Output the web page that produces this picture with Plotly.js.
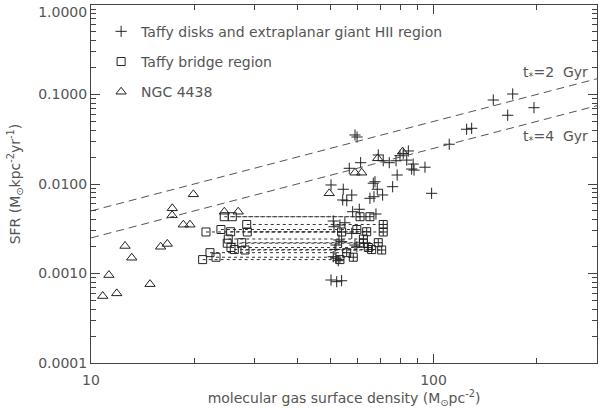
<!DOCTYPE html>
<html>
<head>
<meta charset="utf-8">
<script src="https://cdn.plot.ly/plotly-3.0.1.min.js"></script>
<style>html,body{margin:0;padding:0;background:#fff;}#chart{width:600px;height:412px;}</style>
</head>
<body>
<div id="chart"></div>
<script>
// Taffy disks and extraplanar giant HII region
const taffyGas = [149.4,170.2,196.4,164.6,124.9,129.2,111.1,98.7,58.97,59.8,68.97,81.56,84.4,79.8,71.3,74.25,77.7,83.5,87.2,86.3,87.7,94.4,61.25,56.75,78.3,67.45,66.7,50.2,54.5,68.5,75.96,71.0,57.7,66.99,65.2,54.3,55.8,58.05,60.7,67.9,50.96,53.3,55.1,51.2,52.96,53.9,51.9,51.55,58.97,50.96,51.9,52.7,50.2,52.15,53.9,57.7,59.7];
const taffySFR = [0.0868,0.1013,0.0712,0.0586,0.0409,0.0419,0.0278,0.00787,0.0353,0.0335,0.0211,0.0220,0.0234,0.0207,0.0182,0.0173,0.0182,0.0185,0.0167,0.0147,0.0143,0.0154,0.0173,0.01498,0.0126,0.0106,0.0102,0.00975,0.00873,0.00873,0.00933,0.00754,0.00754,0.00721,0.00692,0.00663,0.00651,0.0049,0.00522,0.00462,0.00386,0.00348,0.00369,0.00333,0.00237,0.00227,0.00208,0.00186,0.00208,0.00154,0.00148,0.00139,0.000846,0.00081,0.00083,0.00281,0.00199];

// Taffy bridge region: low and high gas estimates for the same SFR
const bridgeGasLow  = [24.49,25.85,28.48,21.66,23.95,25.57,28.59,25.16,24.99,27.54,25.62,26.2,28.15,22.25,23.17,21.18];
const bridgeGasHigh = [61.0,65.2,71.3,53.9,59.7,63.8,71.3,62.4,62.4,68.96,64.5,65.97,70.56,55.77,58.3,53.3];
const bridgeSFR     = [0.00431,0.00431,0.00353,0.00291,0.0031,0.00293,0.00291,0.00243,0.00218,0.00221,0.00195,0.00185,0.00183,0.00171,0.00152,0.00143];

// NGC 4438
const ngcGas = [19.9,17.27,17.25,18.6,19.45,12.57,13.15,15.97,16.7,11.28,10.82,11.89,14.87,24.5,26.9,49.6,58.97,61.7,68.7,81.2];
const ngcSFR = [0.00767,0.00535,0.00447,0.00351,0.00351,0.00203,0.0015,0.00199,0.00214,0.00096,0.00056,0.0006,0.00076,0.0049,0.0049,0.00787,0.01337,0.01337,0.01937,0.02296];

// depletion-time lines (gas range and SFR at its ends)
const lineGas = [10, 300];
const line2Gyr = [0.005, 0.15];
const line4Gyr = [0.0025, 0.075];

// axis ticks
const yTickVals = [0.0001, 0.001, 0.01, 0.1];
const yTickText = ['0.0001', '0.0010', '0.0100', '0.1000'];
const yTopVal = [1];
const yTopText = ['1.0000'];
const yMinorVals = [0.0002,0.0003,0.0004,0.0005,0.0006,0.0007,0.0008,0.0009,
                    0.002,0.003,0.004,0.005,0.006,0.007,0.008,0.009,
                    0.02,0.03,0.04,0.05,0.06,0.07,0.08,0.09,
                    0.2,0.3,0.4,0.5,0.6,0.7,0.8,0.9];
const xTickVals = [10, 100];
const xTickText = ['10', '100'];
const xMinorVals = [20,30,40,50,60,70,80,90,200,300];

const FONT = 'DejaVu Sans, sans-serif';
const MK = '#222';
const TXT = '#555';
const AX = '#444';

// dotted connectors between bridge low/high points
const connX = [], connY = [];
for (let i = 0; i < bridgeSFR.length; i++) {
  connX.push(bridgeGasLow[i], bridgeGasHigh[i], null);
  connY.push(bridgeSFR[i], bridgeSFR[i], null);
}

const traces = [
  {x: lineGas, y: line2Gyr, xaxis: 'x2', yaxis: 'y2', mode: 'lines', line: {color: '#555', width: 1, dash: '8px,5px'}, showlegend: false, hoverinfo: 'skip'},
  {x: lineGas, y: line4Gyr, xaxis: 'x2', yaxis: 'y2', mode: 'lines', line: {color: '#555', width: 1, dash: '8px,5px'}, showlegend: false, hoverinfo: 'skip'},
  {x: connX, y: connY, mode: 'lines', line: {color: '#333', width: 1, dash: 'dot'}, showlegend: false, hoverinfo: 'skip'},
  {x: taffyGas, y: taffySFR, mode: 'markers', name: 'Taffy disks and extraplanar giant HII region', legendgroup: 'a',
   marker: {symbol: 'cross-thin-open', size: 8, color: MK, line: {color: MK, width: 1}}},
  {x: bridgeGasLow, y: bridgeSFR, mode: 'markers', name: 'Taffy bridge region', legendgroup: 'b',
   marker: {symbol: 'square-open', size: 8, color: MK, line: {color: MK, width: 1}}},
  {x: bridgeGasHigh, y: bridgeSFR, mode: 'markers', name: 'Taffy bridge region high', legendgroup: 'b', showlegend: false,
   marker: {symbol: 'square-cross-open', size: 8, color: MK, line: {color: MK, width: 1}}},
  {x: ngcGas, y: ngcSFR, mode: 'markers', name: 'NGC 4438', legendgroup: 'c',
   marker: {symbol: 'triangle-up-open', size: 9, color: MK, line: {color: MK, width: 1}}}
];

const base = {
  type: 'log', showgrid: false, zeroline: false, showline: true, linecolor: AX, linewidth: 1,
  mirror: 'ticks', ticks: 'inside', tickcolor: AX, tickwidth: 1,
  tickfont: {family: FONT, size: 14, color: TXT}, ticklabeloverflow: 'allow', tickmode: 'array'
};
const xRange = [1, Math.log10(300)];
const yRange = [-4, 0];

const layout = {
  width: 600, height: 412,
  margin: {l: 91, r: 3, t: 5, b: 49},
  paper_bgcolor: '#fff', plot_bgcolor: '#fff',
  font: {family: FONT, size: 14, color: TXT},
  xaxis: Object.assign({}, base, {
    range: xRange, tickvals: xTickVals, ticktext: xTickText, ticklen: 9, ticklabelstandoff: 4,
    title: {text: 'molecular gas surface density (M<sub>⊙</sub>pc<sup>-2</sup>)', font: {family: FONT, size: 14, color: TXT}, standoff: 2}
  }),
  yaxis: Object.assign({}, base, {
    range: yRange, tickvals: yTickVals, ticktext: yTickText, ticklen: 9,
    title: {text: 'SFR (M<sub>⊙</sub>kpc<sup>-2</sup>yr<sup>-1</sup>)', font: {family: FONT, size: 14, color: TXT}, standoff: 14}
  }),
  // overlay axes carrying the minor ticks (and the shifted top label)
  xaxis2: Object.assign({}, base, {
    overlaying: 'x', anchor: 'y2', side: 'bottom', range: xRange, tickvals: xMinorVals, ticklen: 5, showticklabels: false
  }),
  yaxis2: Object.assign({}, base, {
    overlaying: 'y', anchor: 'x2', side: 'left', range: yRange,
    tickvals: yMinorVals.concat(yTopVal), ticktext: yMinorVals.map(() => '').concat(yTopText),
    ticklen: 5, ticklabelshift: 7
  }),
  legend: {x: 0.02, y: 0.97, xanchor: 'left', yanchor: 'top', bgcolor: 'rgba(0,0,0,0)',
    font: {family: FONT, size: 14, color: TXT}, tracegroupgap: 9, traceorder: 'grouped'},
  annotations: [
    {xref: 'paper', yref: 'paper', x: 0.85, y: 0.81, xanchor: 'left', yanchor: 'middle', showarrow: false,
     text: 't<sub>*</sub>=2  Gyr', font: {family: FONT, size: 14, color: TXT}},
    {xref: 'paper', yref: 'paper', x: 0.85, y: 0.631, xanchor: 'left', yanchor: 'middle', showarrow: false,
     text: 't<sub>*</sub>=4  Gyr', font: {family: FONT, size: 14, color: TXT}}
  ],
  showlegend: true
};

Plotly.newPlot('chart', traces, layout, {displayModeBar: false, staticPlot: true});
</script>
</body>
</html>
